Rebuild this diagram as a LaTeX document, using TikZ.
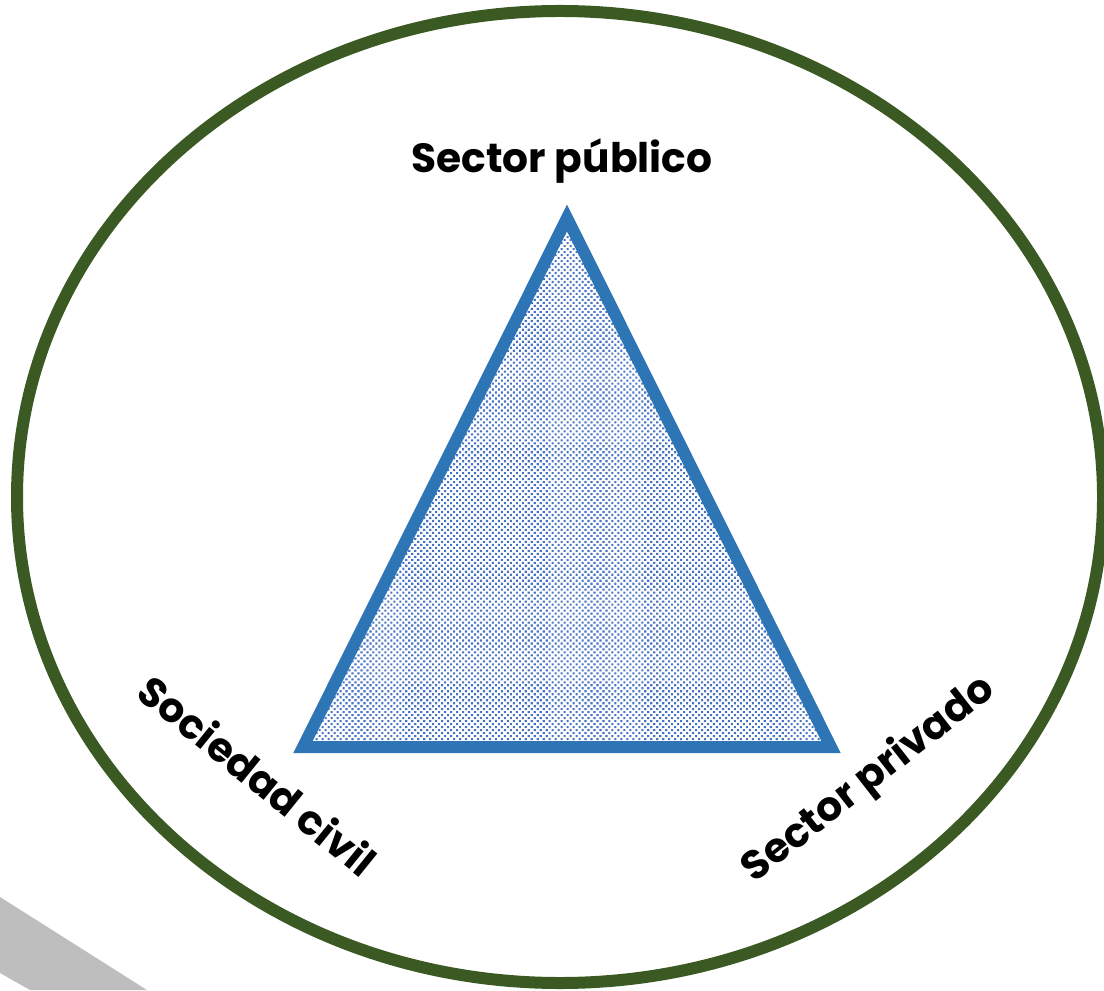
\documentclass[tikz,border=0pt]{standalone}
\usepackage{fontspec}
\setmainfont{Poppins}
\usetikzlibrary{positioning,shapes.geometric,patterns}

\definecolor{ringgreen}{RGB}{59,89,35}
\definecolor{edgeblue}{RGB}{46,117,182}
\definecolor{dotblue}{RGB}{68,114,196}
\definecolor{shadowgray}{RGB}{191,190,191}

\pgfdeclarepatternformonly{fine dots}{\pgfqpoint{-0.5pt}{-0.5pt}}{\pgfqpoint{1.5pt}{1.5pt}}{\pgfqpoint{1.7pt}{1.7pt}}{%
  \pgfpathrectangle{\pgfqpoint{-0.3pt}{-0.3pt}}{\pgfqpoint{0.6pt}{0.6pt}}%
  \pgfpathrectangle{\pgfqpoint{0.55pt}{0.55pt}}{\pgfqpoint{0.6pt}{0.6pt}}%
  \pgfusepath{fill}}

\begin{document}
\begin{tikzpicture}[
            node distance=0.25cm,
            ring/.style={ellipse,draw=ringgreen,line width=0.12cm,minimum width=10.86cm,minimum height=9.72cm,inner sep=0pt},
            sector/.style={draw=edgeblue,line width=0.12cm,line join=miter,pattern=fine dots,pattern color=dotblue},
            sector label/.style={font=\bfseries\fontsize{11.6}{14}\selectfont,inner sep=0pt},
        ]
            \useasboundingbox (0,0) rectangle (11.04,9.90);
            \fill[shadowgray] (0,0.93) -- (1.47,0) -- (0.30,0) -- (0,0.17) -- cycle;

            \node[ring] (gobernanza) at (5.60,4.93) {};

            \coordinate (civil) at (3.03,2.43);
            \coordinate (privado) at (8.31,2.43);
            \coordinate (publico) at (5.67,7.72);
            \path[sector] (civil) -- (privado) -- (publico) -- cycle;

            \node[sector label, anchor=base] (lpublico) at (5.62,8.17) {Sector público};
            \node[sector label, rotate=-39] (lcivil) at (2.58,2.15) {Sociedad civil};
            \node[sector label, rotate=38] (lprivado) at (8.69,2.10) {Sector privado};
        \end{tikzpicture}
\end{document}
